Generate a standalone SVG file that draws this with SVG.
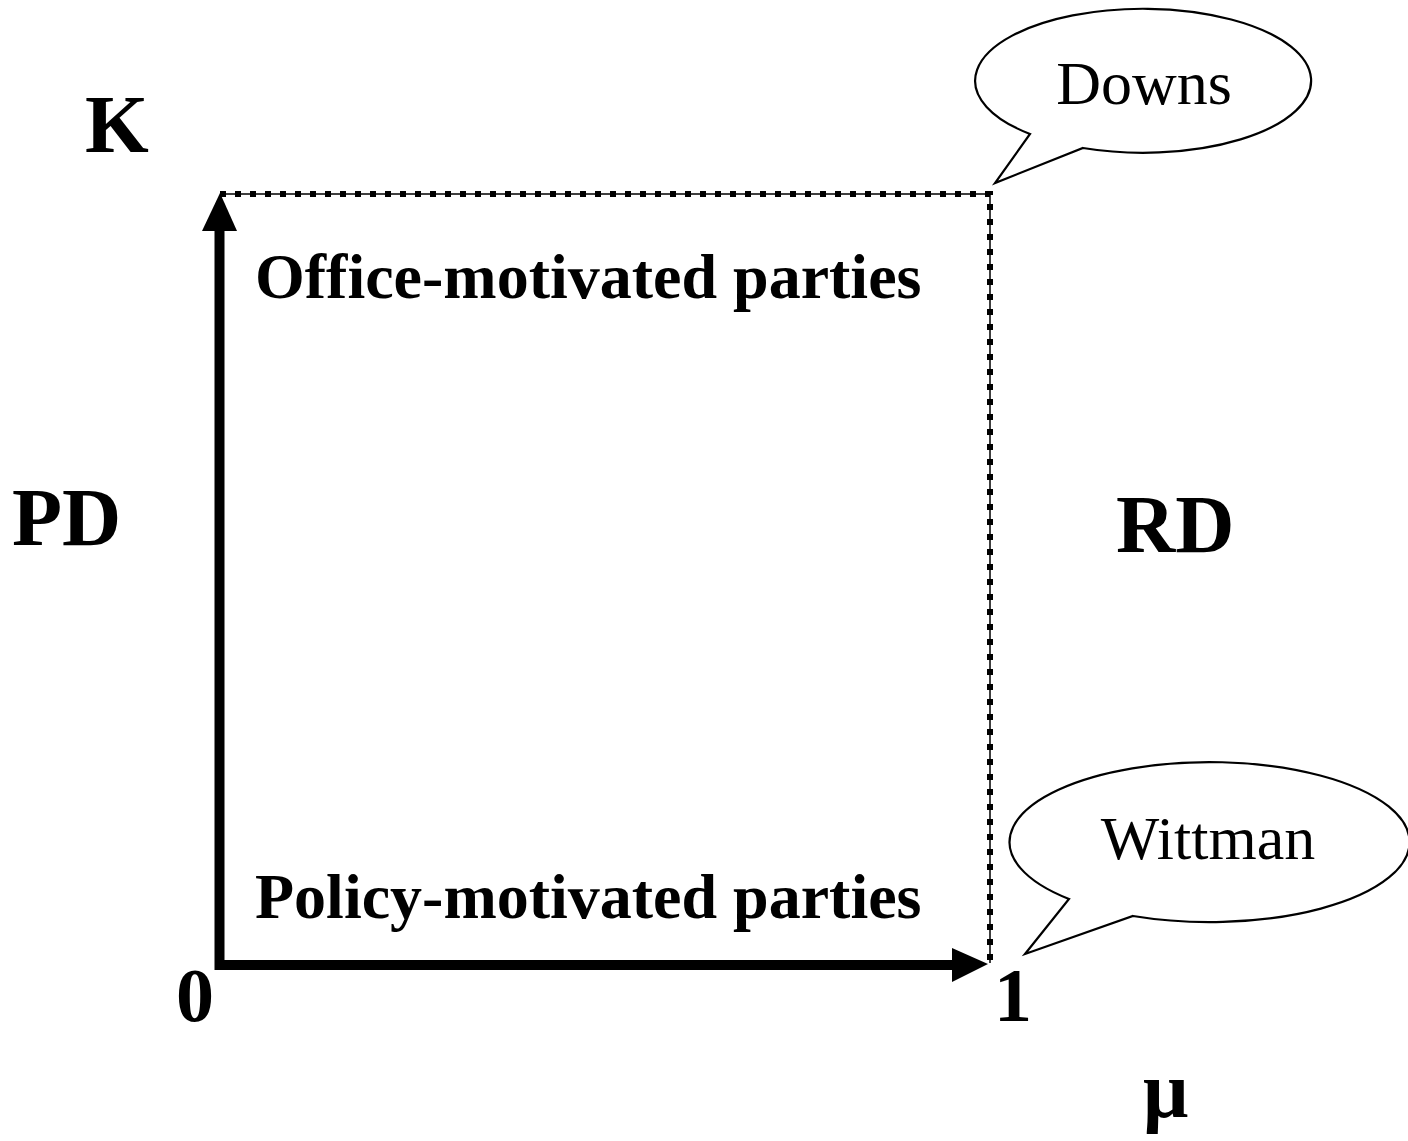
<svg xmlns="http://www.w3.org/2000/svg" width="1408" height="1141" viewBox="0 0 1408 1141">
<style>
.b{font-family:"Liberation Serif","Times New Roman",serif;font-weight:bold;fill:#000}
.r{font-family:"Liberation Serif","Times New Roman",serif;fill:#000}
.callout{fill:#fff;stroke:#000;stroke-width:2.2;stroke-linejoin:miter}
.thin{stroke:#000;stroke-width:1.5;fill:none}
.dots{stroke:#000;stroke-width:6;stroke-dasharray:6 9;fill:none}
.axis{stroke:#000;stroke-width:10;fill:none}
</style>
<rect width="1408" height="1141" fill="#fff"/>
<g id="connectors">
  <path class="thin" d="M220,194 H990 V963"/>
  <path class="dots" d="M220,194 H990 V963"/>
  <path class="axis" d="M219.5,970 V228 M214.5,965 H955"/>
  <polygon points="220,193 237,231 202,231" fill="#000"/>
  <polygon points="988,964 952,948 952,982" fill="#000"/>
</g>
<g id="downs">
  <path class="callout" d="M1030,134 A168,72 0 1 1 1083,148 L995,183 Z"/>
  <text class="r" x="1144" y="104" font-size="62" text-anchor="middle">Downs</text>
</g>
<g id="wittman">
  <path class="callout" d="M1069,899 A200,80 0 1 1 1133,916 L1025,954 Z"/>
  <text class="r" x="1208" y="859" font-size="62" text-anchor="middle">Wittman</text>
</g>
<g id="labels">
  <text class="b" x="85" y="152" font-size="82">K</text>
  <text class="b" x="12" y="545" font-size="82">PD</text>
  <text class="b" x="1116" y="552" font-size="82">RD</text>
  <text class="b" x="1143" y="1117" font-size="80">μ</text>
  <text class="b" x="176" y="1021" font-size="76">0</text>
  <text class="b" x="994" y="1021" font-size="76">1</text>
  <text class="b" x="255" y="298" font-size="64">Office-motivated parties</text>
  <text class="b" x="255" y="918" font-size="64">Policy-motivated parties</text>
</g>
</svg>
